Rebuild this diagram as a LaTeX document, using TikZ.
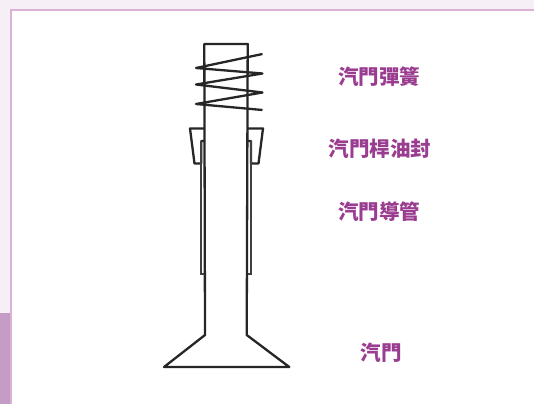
\documentclass[tikz,border=0pt]{standalone}
\usepackage{fontspec}
\newfontfamily\cjk{Noto Sans CJK TC}
\usetikzlibrary{positioning}
\definecolor{PanelBack}{HTML}{F6F0F6}
\definecolor{PanelBorder}{HTML}{D9B2D5}
\definecolor{SideBar}{HTML}{C59CC5}
\definecolor{LabelPurple}{HTML}{9A3C90}
\newcommand{\partlabel}[3]{\node[lbl] (#1) at (#2) {#3};}

\begin{document}
\begin{tikzpicture}[x=1pt, y=-1pt,
  part/.style={draw=black!85, line width=2.3pt, line join=round},
  guide/.style={draw=black!75, line width=1.5pt},
  lbl/.style={font=\cjk\bfseries\fontsize{20.5}{24}\selectfont, text=LabelPurple, inner sep=0pt},
]
\useasboundingbox (0,0) rectangle (534,404);

%% ── Panel ────────────────────────────────────────────────────────────────
\fill[PanelBack] (0,0) rectangle (534,404);
\fill[white] (11,10) rectangle (534,404);
\draw[PanelBorder, line width=1.3pt] (11,404) -- (11,10) -- (534,10);
\fill[SideBar] (0,313) rectangle (10.4,404);

%% ── Valve stem and head ──────────────────────────────────────────────────
\draw[part] (164,367) -- (205,335) -- (204.3,44) -- (247.7,44)
  -- (246.7,335) -- (289.3,367) -- cycle;

%% ── Spring ───────────────────────────────────────────────────────────────
\draw[part] (262.5,54) -- (196,68) -- (262.5,73.5) -- (196,84.5)
  -- (262.5,92.5) -- (196,104) -- (262.5,110);

%% ── Stem seal ────────────────────────────────────────────────────────────
\draw[part] (204.3,128.5) -- (190,128.5) -- (194.5,163.5) -- (201.2,163.5)
  -- (201.2,141) -- (204.3,141);
\draw[part] (247.7,128.5) -- (263,128.5) -- (258.5,163.5) -- (251,163.5)
  -- (251,141) -- (247.7,141);

%% ── Guide tube ───────────────────────────────────────────────────────────
\draw[guide] (201.2,141) -- (201.2,274) -- (204.3,274);
\draw[guide] (251,141) -- (251,274) -- (247.7,274);

%% ── Labels ───────────────────────────────────────────────────────────────
\partlabel{spring}{379,76.5}{汽門彈簧}
\partlabel{seal}{380,149}{汽門桿油封}
\partlabel{tube}{379,211.5}{汽門導管}
\partlabel{valve}{381,353}{汽門}

\end{tikzpicture}
\end{document}
